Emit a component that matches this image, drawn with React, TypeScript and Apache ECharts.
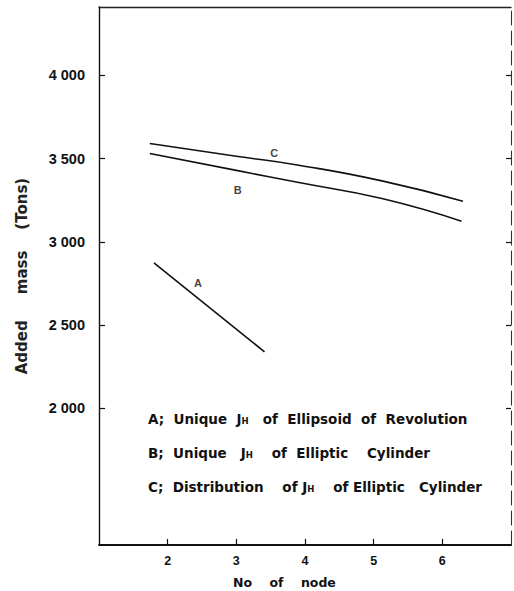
import React, { useEffect, useRef } from "react";
import * as echarts from "echarts";

const xTicks = [2, 3, 4, 5, 6];
const yTicks = [2000, 2500, 3000, 3500, 4000];
const seriesA = [[1.8, 2874], [3.41, 2340]];
const seriesB = [[1.74, 3530], [3, 3429], [3.91, 3356], [5.12, 3260], [6.28, 3124]];
const seriesC = [[1.74, 3590], [3, 3514], [3.91, 3460], [5.12, 3366], [6.3, 3244]];
const curveLabels = [
  { name: "A", value: [2.44, 2750] },
  { name: "B", value: [3.02, 3314] },
  { name: "C", value: [3.55, 3534] },
];
const legendLines = [
  ["A;  Unique  J", "H", "   of  Ellipsoid  of  Revolution"],
  ["B;  Unique   J", "H", "    of  Elliptic    Cylinder"],
  ["C;  Distribution    of J", "H", "    of Elliptic   Cylinder"],
];
const xName = "No    of    node";
const yName = "Added     mass    (Tons)";

const FONT = "Liberation Sans";
const WIDE = "DejaVu Sans";

export default function App() {
  const ref = useRef<HTMLDivElement>(null);
  useEffect(() => {
    if (!ref.current) return;
    const chart = echarts.init(ref.current, null, { renderer: "svg" });
    const lineStyle = { color: "#111", width: 1.6 };
    chart.setOption({
      animation: false,
      backgroundColor: "#fff",
      grid: { left: 99, right: 3, top: 7, bottom: 46, containLabel: false },
      xAxis: [
        {
          type: "value",
          min: 1,
          max: 7,
          interval: 1,
          position: "bottom",
          axisLine: { show: true, lineStyle: { color: "#111", width: 1.8 } },
          axisTick: { show: true, inside: true, length: 6, customValues: xTicks, lineStyle: { color: "#111", width: 1.2 } },
          axisLabel: { show: true, customValues: xTicks, margin: 9, color: "#111", fontFamily: FONT, fontWeight: "bold", fontSize: 12.5 },
          splitLine: { show: false },
        },
        {
          type: "value",
          min: 1,
          max: 7,
          position: "top",
          axisLine: { show: true, onZero: false, lineStyle: { color: "#222", width: 1.4 } },
          axisTick: { show: false },
          axisLabel: { show: false },
          splitLine: { show: false },
        },
      ],
      yAxis: [
        {
          type: "value",
          min: 1180,
          max: 4410,
          position: "left",
          name: yName,
          nameLocation: "middle",
          nameRotate: 90,
          nameGap: 70,
          nameTextStyle: { color: "#222", fontFamily: WIDE, fontWeight: "bold", fontSize: 15 },
          axisLine: { show: true, onZero: false, lineStyle: { color: "#111", width: 1.4 } },
          axisTick: { show: true, inside: true, length: 6, customValues: yTicks, lineStyle: { color: "#111", width: 1.2 } },
          axisLabel: {
            show: true,
            customValues: yTicks,
            margin: 14,
            color: "#111",
            fontFamily: FONT,
            fontWeight: "bold",
            fontSize: 14.5,
            formatter: (v: number) => {
              const s = String(v);
              return s[0] + " " + s.slice(1);
            },
          },
          splitLine: { show: false },
        },
        {
          type: "value",
          min: 1180,
          max: 4410,
          position: "right",
          axisLine: { show: true, onZero: false, lineStyle: { color: "#333", width: 1.1, type: [14, 6] } },
          axisTick: { show: true, inside: true, length: 5, customValues: yTicks, lineStyle: { color: "#111", width: 1.2 } },
          axisLabel: { show: false },
          splitLine: { show: false },
        },
      ],
      series: [
        { type: "line", data: seriesA, showSymbol: false, smooth: false, lineStyle },
        { type: "line", data: seriesB, showSymbol: false, smooth: true, lineStyle },
        { type: "line", data: seriesC, showSymbol: false, smooth: true, lineStyle },
        {
          type: "scatter",
          data: curveLabels,
          symbolSize: 0,
          label: {
            show: true,
            position: "inside",
            formatter: "{b}",
            color: "#111",
            fontFamily: FONT,
            fontWeight: "bold",
            fontSize: 11,
          },
        },
      ],
      graphic: [
        ...legendLines.map((parts, i) => ({
          type: "text",
          left: 148,
          top: 412 + i * 34,
          style: {
            text: `{t|${parts[0]}}{s|${parts[1]}}{t|${parts[2]}}`,
            rich: {
              t: { fontFamily: WIDE, fontWeight: "bold", fontSize: 13.5, fill: "#111" },
              s: { fontFamily: WIDE, fontWeight: "bold", fontSize: 8.5, fill: "#111", padding: [4, 0, 0, 0] },
            },
          },
        })),
        {
          type: "text",
          left: 233,
          top: 576,
          style: { text: xName, fontFamily: WIDE, fontWeight: "bold", fontSize: 12.5, fill: "#111" },
        },
      ],
    });
    return () => chart.dispose();
  }, []);
  return <div ref={ref} style={{ position: "fixed", left: 0, top: 0, width: 514, height: 591, background: "#fff" }} />;
}
